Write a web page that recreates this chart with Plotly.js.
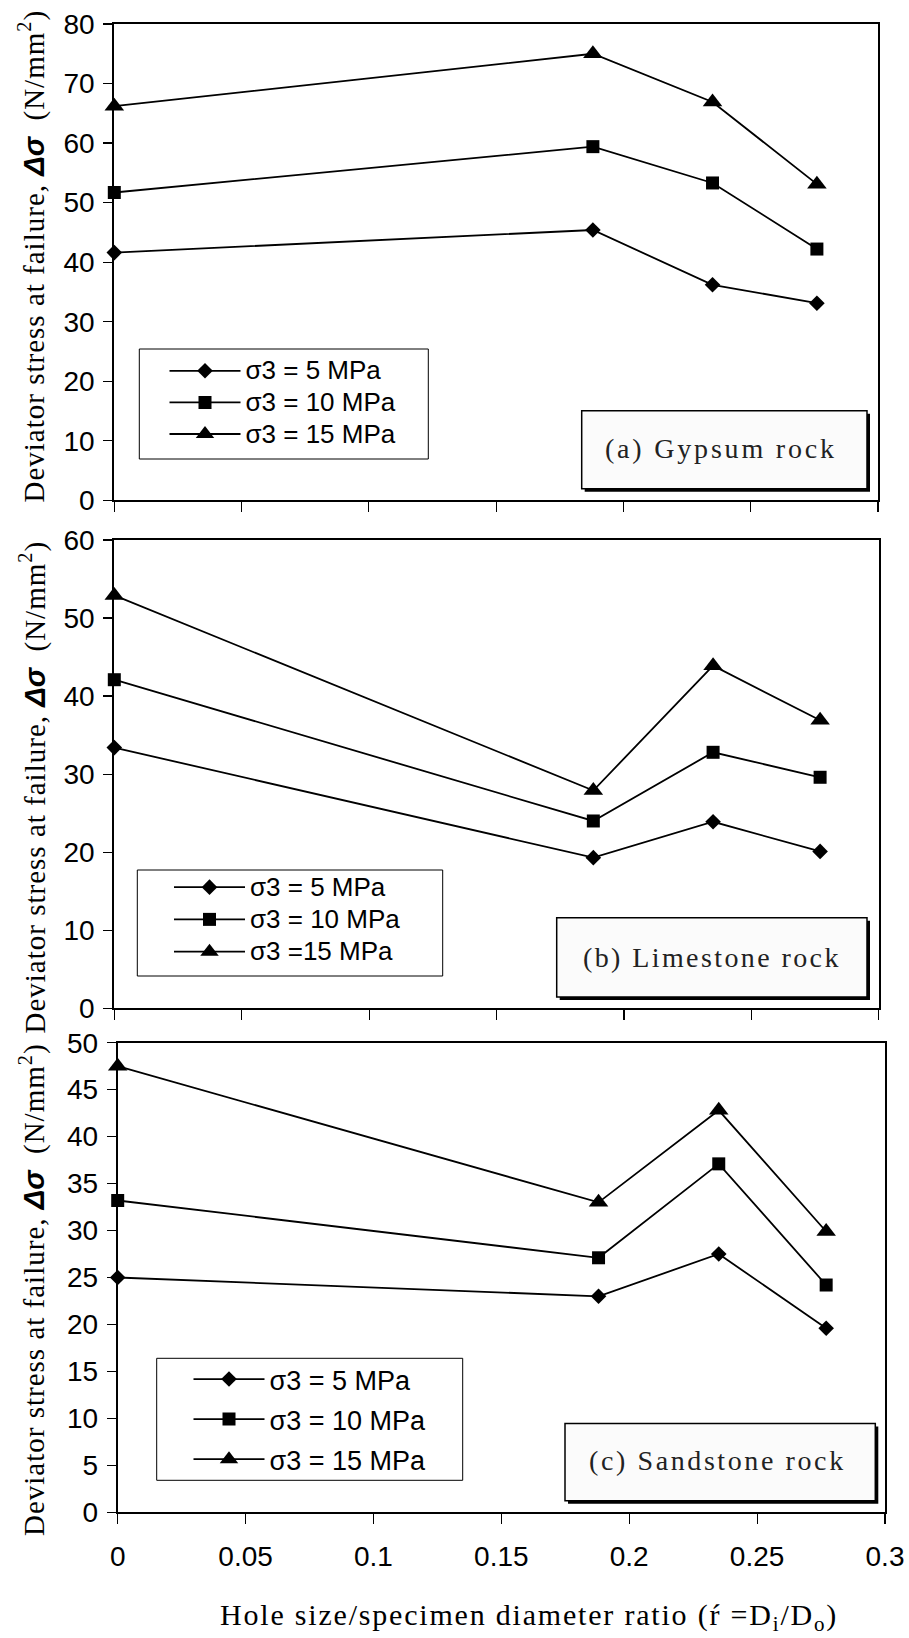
<!DOCTYPE html>
<html>
<head>
<meta charset="utf-8">
<script src="https://cdn.plot.ly/plotly-3.0.1.min.js"></script>
<style>html,body{margin:0;padding:0;background:#fff;}#chart{width:909px;height:1638px;}</style>
</head>
<body>
<div id="chart"></div>
<script>
// ---- data ----
const ratioGypsum    = [0, 0.188, 0.235, 0.276];
const gypsum5        = [41.6, 45.4, 36.2, 33.1];
const gypsum10       = [51.7, 59.4, 53.3, 42.2];
const gypsum15       = [66.2, 75.0, 66.9, 53.1];

const ratioLimestone = [0, 0.188, 0.235, 0.277];
const limestone5     = [33.4, 19.3, 23.9, 20.1];
const limestone10    = [42.1, 24.0, 32.8, 29.6];
const limestone15    = [52.9, 27.9, 43.9, 36.9];

const ratioSandstone = [0, 0.188, 0.235, 0.277];
const sandstone5     = [25.0, 23.0, 27.5, 19.6];
const sandstone10    = [33.2, 27.1, 37.1, 24.2];
const sandstone15    = [47.5, 33.0, 42.8, 29.9];

const namesA = ['σ3 = 5 MPa', 'σ3 = 10 MPa', 'σ3 = 15 MPa'];
const namesB = ['σ3 = 5 MPa', 'σ3 = 10 MPa', 'σ3 =15 MPa'];
const namesC = ['σ3 = 5 MPa', 'σ3 = 10 MPa', 'σ3 = 15 MPa'];
const panelLabels = ['(a) Gypsum rock', '(b) Limestone rock', '(c) Sandstone rock'];
const xTickVals = [0, 0.05, 0.1, 0.15, 0.2, 0.25, 0.3];

// ---- helpers (pixel -> paper) ----
const W = 909, H = 1638;
const px = v => v / W;
const py = v => 1 - v / H;

const symbols = ['diamond', 'square', 'triangle-up'];
const sizes = [12, 13, 17];
const sized = (s, fs) => '<span style="font-size:' + fs + 'px">' + s + '</span>';

function mk(x, ys, names, xa, ya, leg, fs) {
  return ys.map((y, i) => ({
    type: 'scatter', mode: 'lines+markers', cliponaxis: false,
    x: x, y: y, name: sized(names[i], fs), xaxis: xa, yaxis: ya, legend: leg,
    line: {color: '#000', width: 1.8},
    marker: {symbol: symbols[i], size: sizes[i], color: '#000'}
  }));
}

const data = [].concat(
  mk(ratioGypsum, [gypsum5, gypsum10, gypsum15], namesA, 'x', 'y', 'legend', 26),
  mk(ratioLimestone, [limestone5, limestone10, limestone15], namesB, 'x2', 'y2', 'legend2', 26),
  mk(ratioSandstone, [sandstone5, sandstone10, sandstone15], namesC, 'x3', 'y3', 'legend3', 27)
);

const tickFont = {family: 'Liberation Sans, Arial, sans-serif', size: 28, color: '#000'};

function xax(domain, anchor, labels) {
  return {
    domain: domain, anchor: anchor, range: [0, 0.3], tickvals: xTickVals,
    showticklabels: labels, ticks: 'outside', ticklen: 10, tickwidth: 1.2, tickcolor: '#000',
    showline: true, linecolor: '#000', linewidth: 2, mirror: true,
    showgrid: false, zeroline: false, tickfont: tickFont, ticklabelstandoff: 8, fixedrange: true
  };
}
function yax(domain, anchor, max, dtick) {
  return {
    domain: domain, anchor: anchor, range: [0, max], dtick: dtick,
    ticks: 'outside', ticklen: 9, tickwidth: 1.2, tickcolor: '#000',
    showline: true, linecolor: '#000', linewidth: 2, mirror: true,
    showgrid: false, zeroline: false, tickfont: tickFont, ticklabelstandoff: 3, fixedrange: true
  };
}

function leg(xpx, ypx, fs) {
  return {x: px(xpx), y: py(ypx), xanchor: 'left', yanchor: 'top', bgcolor: 'rgba(0,0,0,0)',
          borderwidth: 0, font: {family: 'Liberation Sans, Arial, sans-serif', size: fs, color: '#000'},
          itemwidth: 71, tracegroupgap: 0, itemclick: false};
}

const serif = 'Liberation Serif, Times New Roman, serif';
const spaced = (s, ls) => '<span style="letter-spacing:' + ls + 'px">' + s + '</span>';
const yTitle = spaced('Deviator stress at failure, ', 1) +
  '<b><i><span style="font-family:Liberation Sans, Arial, sans-serif">Δσ</span></i></b>' +
  spaced('  (N/mm<sup>2</sup>)', 1);

function legendBox(x0, y0, x1, y1) {
  return {type: 'rect', xref: 'paper', yref: 'paper', x0: px(x0), x1: px(x1), y0: py(y1), y1: py(y0),
          line: {color: '#000', width: 1}, fillcolor: '#fff', layer: 'below'};
}
function labelBox(x0, y0, x1, y1) {
  return [
    {type: 'rect', xref: 'paper', yref: 'paper', x0: px(x0 + 3), x1: px(x1 + 3), y0: py(y1 + 3), y1: py(y0 + 3),
     line: {width: 0}, fillcolor: '#000', layer: 'above'},
    {type: 'rect', xref: 'paper', yref: 'paper', x0: px(x0), x1: px(x1), y0: py(y1), y1: py(y0),
     line: {color: '#000', width: 1.5}, fillcolor: '#fbfbfb', layer: 'above'}
  ];
}
function ann(text, x, y, font, extra) {
  return Object.assign({text: text, xref: 'paper', yref: 'paper', x: px(x), y: py(y),
    xanchor: 'center', yanchor: 'middle', showarrow: false, font: font}, extra || {});
}

const labelFont = {family: serif, size: 28, color: '#222'};
const yTitleFont = {family: serif, size: 29, color: '#000'};

const baseShapes = [].concat(
  [legendBox(139.3, 349, 428.3, 459), legendBox(137.3, 870, 442.7, 976), legendBox(156.7, 1358.3, 462.7, 1480.3)],
  labelBox(581.7, 410.7, 867, 488.7),
  labelBox(556.7, 917.7, 867, 997),
  labelBox(565, 1423.6, 875.3, 1500.8)
);

const layout = {
  width: W, height: H, margin: {l: 0, r: 0, t: 0, b: 0},
  paper_bgcolor: '#fff', plot_bgcolor: 'rgba(0,0,0,0)',
  showlegend: true,
  xaxis:  xax([px(114.3), px(878)], 'y', false),
  yaxis:  yax([py(500.3), py(24)], 'x', 80, 10),
  xaxis2: xax([px(114.3), px(878.7)], 'y2', false),
  yaxis2: yax([py(1008.3), py(540)], 'x2', 60, 10),
  xaxis3: xax([px(117.7), px(885)], 'y3', true),
  yaxis3: yax([py(1512.3), py(1042.7)], 'x3', 50, 5),
  legend:  leg(164.5, 350, 22),
  legend2: leg(169, 866, 22.5),
  legend3: leg(188.5, 1354, 28.5),
  shapes: baseShapes,
  annotations: [
    ann(spaced(panelLabels[0], 2.8), 721, 448, labelFont),
    ann(spaced(panelLabels[1], 2.4), 712, 957, labelFont),
    ann(spaced(panelLabels[2], 2.6), 717, 1460.4, labelFont),
    ann(yTitle, 32, 256.5, yTitleFont, {textangle: -90}),
    ann(yTitle, 33, 787.5, yTitleFont, {textangle: -90}),
    ann(yTitle, 32.5, 1289.5, yTitleFont, {textangle: -90}),
    ann(spaced('Hole size/specimen diameter ratio (ŕ =D<sub>i</sub>/D<sub>o</sub>)', 1.8), 529, 1617,
        {family: serif, size: 30, color: '#000'})
  ]
};

const gd = document.getElementById('chart');
Plotly.newPlot(gd, data, layout, {displayModeBar: false, staticPlot: true}).then(function () {
  // lengthen the legend sample lines to match the reference (about 63 px, centred on the marker)
  const box = gd.getBoundingClientRect();
  const extra = [];
  gd.querySelectorAll('.legendpoints .scatterpts path').forEach(function (p) {
    const r = p.getBoundingClientRect();
    const cx = r.left + r.width / 2 - box.left;
    const cy = r.top + r.height / 2 - box.top;
    const d = p.getAttribute('d') || '';
    const isTri = d.indexOf('H') > -1 && d.split('L').length === 2;
    const ly = isTri ? cy + r.height / 6 : cy;
    extra.push({type: 'line', xref: 'paper', yref: 'paper', x0: px(cx - 31), x1: px(cx + 32),
                y0: py(ly), y1: py(ly), line: {color: '#000', width: 1.8}, layer: 'above'});
  });
  if (extra.length) Plotly.relayout(gd, {shapes: baseShapes.concat(extra)});
});
</script>
</body>
</html>
